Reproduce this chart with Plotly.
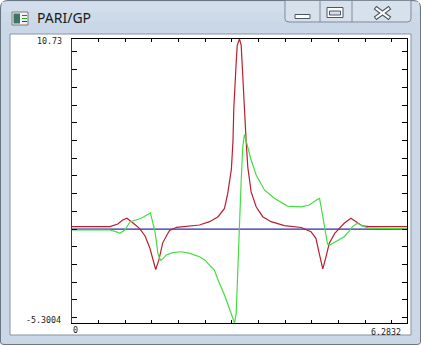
import plotly.graph_objects as go

# ---- data ----
x_range = [0, 6.2832]
y_range = [-5.3004, 10.73]
x_labels = ["0", "6.2832"]
y_labels = ["10.73", "-5.3004"]
axis_y = [0, 0]   # horizontal axis (y = 0) drawn by PARI

red_x = [0, 0.34, 0.71, 0.86, 0.95, 1.03, 1.12, 1.18, 1.27, 1.37, 1.46, 1.52, 1.57, 1.63, 1.70, 1.78,
         1.83, 1.96, 2.21, 2.39, 2.58, 2.74, 2.86, 2.92, 2.99, 3.02, 3.035, 3.05, 3.08, 3.10, 3.1416,
         3.173, 3.192, 3.222, 3.241, 3.265, 3.297, 3.36, 3.454, 3.577, 3.734, 3.983, 4.301, 4.482,
         4.575, 4.637, 4.703, 4.763, 4.825, 4.928, 5.043, 5.105, 5.23, 5.324, 5.447, 5.572, 5.946, 6.2832]
red_y = [0.14, 0.14, 0.14, 0.29, 0.51, 0.61, 0.42, 0.26, 0.03, -0.39, -1.07, -1.80, -2.28, -1.74, -0.79,
         -0.33, -0.08, 0.10, 0.18, 0.23, 0.42, 0.70, 1.17, 2.0, 3.4, 5.03, 6.84, 7.96, 9.43, 10.39, 10.73,
         10.39, 9.43, 7.96, 6.44, 5.03, 3.5, 2.1, 1.26, 0.70, 0.42, 0.20, 0.09, -0.15, -0.52, -1.37,
         -2.25, -1.58, -0.80, -0.24, 0.10, 0.33, 0.61, 0.42, 0.18, 0.14, 0.14, 0.14]

green_x = [0, 0.71, 0.82, 0.90, 0.99, 1.09, 1.15, 1.30, 1.47, 1.52, 1.55, 1.58, 1.61, 1.66, 1.70, 1.77,
           1.89, 2.05, 2.21, 2.39, 2.49, 2.58, 2.67, 2.74, 2.86, 2.95, 3.02, 3.048, 3.08, 3.11, 3.14,
           3.173, 3.203, 3.235, 3.297, 3.36, 3.454, 3.609, 3.796, 4.039, 4.301, 4.45, 4.605, 4.643,
           4.675, 4.703, 4.74, 4.793, 4.834, 4.881, 4.98, 5.105, 5.199, 5.26, 5.354, 5.447, 5.572, 6.2832]
green_y = [-0.05, -0.05, -0.14, -0.24, -0.05, 0.42, 0.47, 0.61, 0.91, 0.40, -0.05, -0.62, -1.37, -1.77,
           -1.69, -1.46, -1.33, -1.28, -1.37, -1.56, -1.74, -2.03, -2.31, -2.87, -3.72, -4.47, -5.13,
           -5.3004, -4.74, -2.7, 0.1, 2.7, 4.65, 5.33, 4.65, 3.90, 3.05, 2.21, 1.74, 1.30, 1.25, 1.36,
           1.68, 1.73, 1.19, 0.68, -0.05, -0.84, -0.90, -0.81, -0.62, -0.43, -0.11, 0.14, 0.33, 0.18,
           0.05, 0.02]

RED = "#b8202c"
GREEN = "#44dd44"
NAVY = "#2a2ab0"

W, H = 421, 346
L, R, T, B = 72, 14, 39, 23
PW, PH = W - L - R, H - T - B


def X(px):
    return (px - L) / PW


def Y(py):
    return (H - B - py) / PH


def rect(x0, y0, x1, y1, fill, line, lw=1):
    return dict(type="rect", xref="paper", yref="paper", x0=X(x0), x1=X(x1), y0=Y(y0), y1=Y(y1),
                fillcolor=fill, line=dict(color=line, width=lw), layer="below")


def seg(x0, y0, x1, y1, color, lw, layer="below"):
    return dict(type="line", xref="paper", yref="paper", x0=X(x0), x1=X(x1), y0=Y(y0), y1=Y(y1),
                line=dict(color=color, width=lw), layer=layer)


def P(px, py):
    return f"{X(px):.5f},{Y(py):.5f}"


fig = go.Figure()
fig.add_trace(go.Scatter(x=x_range, y=axis_y, mode="lines", line=dict(color=NAVY, width=1.2),
                         showlegend=False, hoverinfo="skip"))
fig.add_trace(go.Scatter(x=red_x, y=red_y, mode="lines", line=dict(color=RED, width=1.2),
                         showlegend=False, hoverinfo="skip"))
fig.add_trace(go.Scatter(x=green_x, y=green_y, mode="lines", line=dict(color=GREEN, width=1.2),
                         showlegend=False, hoverinfo="skip"))

shapes = []
# window body with rounded corners
body = (f"M {P(0.5, 342)} L {P(0.5, 8)} Q {P(0.5, 0.5)} {P(8, 0.5)} L {P(413, 0.5)} "
        f"Q {P(420.5, 0.5)} {P(420.5, 8)} L {P(420.5, 342)} Q {P(420.5, 344.5)} {P(417, 344.5)} "
        f"L {P(4, 344.5)} Q {P(0.5, 344.5)} {P(0.5, 342)} Z")
shapes.append(dict(type="path", xref="paper", yref="paper", path=body, fillcolor="#c9d7e6",
                   line=dict(color="#6b7683", width=1), layer="below"))
shapes.append(rect(2, 2, 419, 12, "#d2deeb", "rgba(0,0,0,0)", 0))
shapes.append(rect(2, 12, 419, 22, "#cddae8", "rgba(0,0,0,0)", 0))
# client area
shapes.append(rect(10, 34, 411, 335, "white", "#8793a0", 1))
# caption buttons
btn = (f"M {P(285, 0.5)} L {P(285, 19)} Q {P(285, 22)} {P(289, 22)} L {P(407, 22)} "
       f"Q {P(411, 22)} {P(411, 19)} L {P(411, 0.5)} Z")
shapes.append(dict(type="path", xref="paper", yref="paper", path=btn, fillcolor="#d6e1ec",
                   line=dict(color="#7f8b99", width=1), layer="below"))
shapes.append(seg(320, 0.5, 320, 22, "#7f8b99", 1))
shapes.append(seg(352, 0.5, 352, 22, "#7f8b99", 1))
# minimize glyph
shapes.append(rect(295, 14.5, 310, 18.5, "white", "#4a5562", 1))
# maximize glyph
shapes.append(rect(327, 7.5, 343, 17.5, "white", "#4a5562", 1))
shapes.append(rect(329.5, 11, 340.5, 15, "#d6e1ec", "#4a5562", 1))
# close glyph
shapes.append(seg(375, 7.5, 390, 18.5, "#4a5562", 4.5))
shapes.append(seg(375, 18.5, 390, 7.5, "#4a5562", 4.5))
shapes.append(seg(375.8, 8.1, 389.2, 17.9, "white", 2))
shapes.append(seg(375.8, 17.9, 389.2, 8.1, "white", 2))
# window icon
shapes.append(rect(12, 12, 28, 25, "#f2f2f2", "#7a7a7a", 1))
shapes.append(rect(13.5, 13.5, 20, 23.5, "#3d7566", "rgba(0,0,0,0)", 0))
shapes.append(seg(22, 15.5, 27, 15.5, "#c03030", 1))
shapes.append(seg(22, 18.5, 27, 18.5, "#30a030", 1))
shapes.append(seg(22, 21.5, 27, 21.5, "#3030a0", 1))
# y-axis (x = 0) drawn in navy over the left frame line
shapes.append(dict(type="line", xref="paper", yref="paper", x0=-0.5 / PW, x1=-0.5 / PW, y0=0, y1=1,
                   line=dict(color=NAVY, width=1), layer="above"))

annotations = [
    dict(text="PARI/GP", xref="paper", yref="paper", x=X(35), y=Y(18), xanchor="left", yanchor="middle",
         showarrow=False, font=dict(family="Noto Sans", size=14, color="#1a1a1a")),
]
lab_font = dict(family="DejaVu Sans Mono", size=8.3, color="#1a1a1a")
annotations += [
    dict(text=y_labels[0], xref="paper", yref="paper", x=X(64), y=Y(41), xanchor="right",
         yanchor="middle", showarrow=False, font=lab_font),
    dict(text=y_labels[1], xref="paper", yref="paper", x=X(63), y=Y(319.5), xanchor="right",
         yanchor="middle", showarrow=False, font=lab_font),
    dict(text=x_labels[0], xref="paper", yref="paper", x=X(70.5), y=Y(330), xanchor="left",
         yanchor="middle", showarrow=False, font=lab_font),
    dict(text=x_labels[1], xref="paper", yref="paper", x=X(402.5), y=Y(332), xanchor="right",
         yanchor="middle", showarrow=False, font=lab_font),
]

fig.update_layout(
    width=W, height=H,
    margin=dict(l=L, r=R, t=T, b=B, pad=0),
    paper_bgcolor="white",
    plot_bgcolor="white",
    shapes=shapes,
    annotations=annotations,
    xaxis=dict(range=x_range, showgrid=False, zeroline=False, showline=True, linecolor="black",
               linewidth=1, mirror="ticks", ticks="inside", ticklen=3, tickcolor="black", tick0=0,
               dtick=0.5, showticklabels=False, fixedrange=True),
    yaxis=dict(range=y_range, showgrid=False, zeroline=False,
               showline=True, linecolor="black", linewidth=1, mirror="ticks", ticks="inside",
               ticklen=5, tickcolor="black", tick0=0, dtick=1, showticklabels=False, fixedrange=True),
)

fig.write_html("out.html")
